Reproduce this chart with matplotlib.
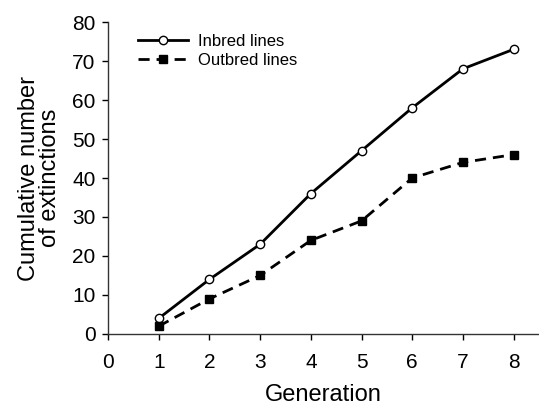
import numpy as np
import matplotlib.pyplot as plt

plt.rcParams['font.family'] = ['Liberation Sans', 'DejaVu Sans']

generation = [1, 2, 3, 4, 5, 6, 7, 8]
inbred = [4, 14, 23, 36, 47, 58, 68, 73]
outbred = [2, 9, 15, 24, 29, 40, 44, 46]

fig = plt.figure(figsize=(5.39, 4.04), dpi=100)
ax = fig.add_axes([0.2004, 0.1733, 0.7996, 0.7722])

ax.plot(generation, inbred, color='black', linewidth=2.0, marker='o',
        markersize=6, markerfacecolor='white', markeredgecolor='black',
        markeredgewidth=1.0, label='Inbred lines')
ax.plot(generation, outbred, color='black', linewidth=2.0, linestyle=(0, (4, 2.5)),
        marker='s', markersize=5.5, markerfacecolor='black',
        label='Outbred lines')

ax.set_xlim(0, 8.5)
ax.set_ylim(0, 80)
ax.set_xticks(range(0, 9))
ax.set_yticks(range(0, 81, 10))

for s in ['top', 'right']:
    ax.spines[s].set_visible(False)
for s in ['left', 'bottom']:
    ax.spines[s].set_linewidth(1.0)
    ax.spines[s].set_color('#333333')

ax.tick_params(direction='out', length=4, width=1, labelsize=15, pad=5)
ax.tick_params(axis='x', pad=10)

ax.set_xlabel('Generation', fontsize=17, labelpad=8)
ax.set_ylabel('Cumulative number\nof extinctions', fontsize=17, labelpad=8,
              linespacing=0.95)

ax.legend(loc='upper left', bbox_to_anchor=(0.035, 1.01), frameon=False,
          fontsize=12, handlelength=3.0, handletextpad=0.6, labelspacing=0.25)

plt.savefig('out.png', dpi=100)
